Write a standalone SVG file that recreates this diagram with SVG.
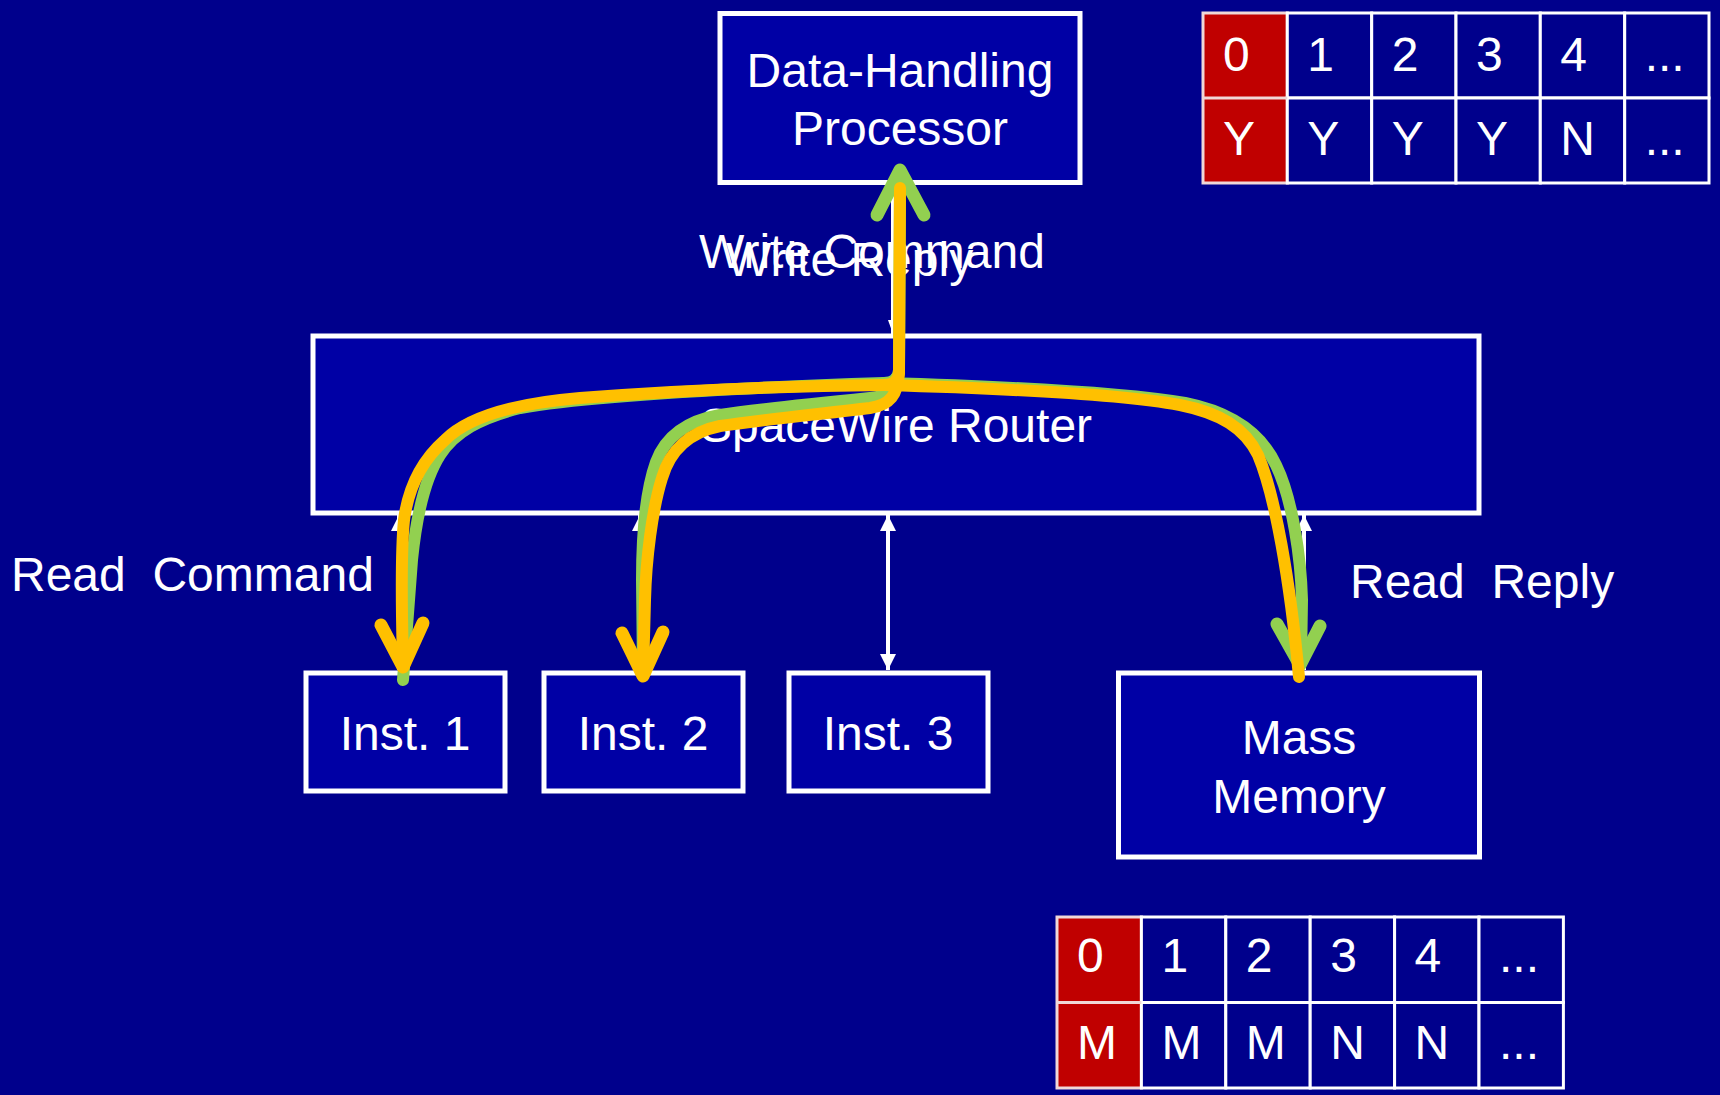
<svg xmlns="http://www.w3.org/2000/svg" width="1720" height="1095" viewBox="0 0 1720 1095">
<defs>
<style>
.bg{fill:#00008C}
.box{fill:#0000A5;stroke:#FFFFFF;stroke-width:5}
.t{font-family:"Liberation Sans",Arial,sans-serif;font-size:48px;fill:#FFFFFF}
.tc{text-anchor:middle}
.tb{font-family:"Liberation Sans",Arial,sans-serif;font-size:48px;fill:#FFFFFF}
.cell{fill:#00008C;stroke:#FFFFFF;stroke-width:3}
.red{fill:#C00000;stroke:#F0D8D8;stroke-width:3}
.wl{stroke:#FFFFFF;stroke-width:4;fill:none}
.g{stroke:#92D050;stroke-width:12;fill:none;stroke-linecap:round;stroke-linejoin:round}
.y{stroke:#FFC000;stroke-width:12;fill:none;stroke-linecap:round;stroke-linejoin:round}
.gh{stroke:#92D050;stroke-width:13;fill:none;stroke-linecap:round;stroke-linejoin:round}
.yh{stroke:#FFC000;stroke-width:13;fill:none;stroke-linecap:round;stroke-linejoin:round}
</style>
<marker id="arr" viewBox="0 0 16 16" markerWidth="16" markerHeight="16" markerUnits="userSpaceOnUse" refX="16" refY="8" orient="auto-start-reverse">
<path d="M0,0 L16,8 L0,16 z" fill="#FFFFFF"/>
</marker>
<marker id="arrS" viewBox="0 0 14 10" markerWidth="14" markerHeight="10" markerUnits="userSpaceOnUse" refX="14" refY="5" orient="auto-start-reverse">
<path d="M0,0 L14,5 L0,10 z" fill="#FFFFFF"/>
</marker>
</defs>
<rect class="bg" x="0" y="0" width="1720" height="1095"/>

<g id="dhp">
<rect class="box" x="720" y="13.5" width="360" height="169"/>
<text class="t tc" x="900" y="87">Data-Handling</text>
<text class="t tc" x="900" y="145">Processor</text>
</g>

<g id="router">
<rect class="box" x="313" y="336" width="1166" height="177"/>
<text class="t tc" x="896" y="442">SpaceWire Router</text>
</g>

<g id="inst1">
<rect class="box" x="306" y="673" width="199" height="118"/>
<text class="t tc" x="405" y="750">Inst. 1</text>
</g>
<g id="inst2">
<rect class="box" x="544" y="673" width="199" height="118"/>
<text class="t tc" x="643" y="750">Inst. 2</text>
</g>
<g id="inst3">
<rect class="box" x="789" y="673" width="199" height="118"/>
<text class="t tc" x="888" y="750">Inst. 3</text>
</g>

<g id="mass-memory">
<rect class="box" x="1118.5" y="673" width="361" height="184"/>
<text class="t tc" x="1299" y="754">Mass</text>
<text class="t tc" x="1299" y="813">Memory</text>
</g>

<g id="table-top">
<rect class="red" x="1203" y="13" width="84.3" height="170"/>
<rect class="cell" x="1287.3" y="13" width="84.4" height="85"/>
<rect class="cell" x="1371.7" y="13" width="84.3" height="85"/>
<rect class="cell" x="1456" y="13" width="84.3" height="85"/>
<rect class="cell" x="1540.3" y="13" width="84.4" height="85"/>
<rect class="cell" x="1624.7" y="13" width="84.3" height="85"/>
<rect class="cell" x="1287.3" y="98" width="84.4" height="85"/>
<rect class="cell" x="1371.7" y="98" width="84.3" height="85"/>
<rect class="cell" x="1456" y="98" width="84.3" height="85"/>
<rect class="cell" x="1540.3" y="98" width="84.4" height="85"/>
<rect class="cell" x="1624.7" y="98" width="84.3" height="85"/>
<line x1="1203" y1="98" x2="1287.3" y2="98" stroke="#F0D8D8" stroke-width="3"/>
<text class="tb" x="1223" y="71">0</text>
<text class="tb" x="1307.3" y="71">1</text>
<text class="tb" x="1391.7" y="71">2</text>
<text class="tb" x="1476" y="71">3</text>
<text class="tb" x="1560.3" y="71">4</text>
<text class="tb" x="1644.7" y="71">...</text>
<text class="tb" x="1223" y="155">Y</text>
<text class="tb" x="1307.3" y="155">Y</text>
<text class="tb" x="1391.7" y="155">Y</text>
<text class="tb" x="1476" y="155">Y</text>
<text class="tb" x="1560.3" y="155">N</text>
<text class="tb" x="1644.7" y="155">...</text>
</g>

<g id="table-bottom">
<rect class="red" x="1057" y="917" width="84.4" height="171"/>
<rect class="cell" x="1141.4" y="917" width="84.4" height="85.5"/>
<rect class="cell" x="1225.8" y="917" width="84.4" height="85.5"/>
<rect class="cell" x="1310.2" y="917" width="84.4" height="85.5"/>
<rect class="cell" x="1394.6" y="917" width="84.4" height="85.5"/>
<rect class="cell" x="1479" y="917" width="84.4" height="85.5"/>
<rect class="cell" x="1141.4" y="1002.5" width="84.4" height="85.5"/>
<rect class="cell" x="1225.8" y="1002.5" width="84.4" height="85.5"/>
<rect class="cell" x="1310.2" y="1002.5" width="84.4" height="85.5"/>
<rect class="cell" x="1394.6" y="1002.5" width="84.4" height="85.5"/>
<rect class="cell" x="1479" y="1002.5" width="84.4" height="85.5"/>
<line x1="1057" y1="1002.5" x2="1141.4" y2="1002.5" stroke="#F0D8D8" stroke-width="3"/>
<text class="tb" x="1077" y="972">0</text>
<text class="tb" x="1161.4" y="972">1</text>
<text class="tb" x="1245.8" y="972">2</text>
<text class="tb" x="1330.2" y="972">3</text>
<text class="tb" x="1414.6" y="972">4</text>
<text class="tb" x="1499" y="972">...</text>
<text class="tb" x="1077" y="1059">M</text>
<text class="tb" x="1161.4" y="1059">M</text>
<text class="tb" x="1245.8" y="1059">M</text>
<text class="tb" x="1330.2" y="1059">N</text>
<text class="tb" x="1414.6" y="1059">N</text>
<text class="tb" x="1499" y="1059">...</text>
</g>

<g id="labels">
<text class="t" x="699" y="268">Write Command</text>
<text class="t" x="726" y="276">Write Reply</text>
<text class="t" x="11" y="591" xml:space="preserve">Read  Command</text>
<text class="t" x="1350" y="598" xml:space="preserve">Read  Reply</text>
</g>

<g id="connectors">
<line class="wl" x1="893" y1="184" x2="893" y2="334" marker-start="url(#arrS)" marker-end="url(#arrS)"/>
<line class="wl" x1="399" y1="515" x2="399" y2="670" marker-start="url(#arr)" marker-end="url(#arr)"/>
<line class="wl" x1="640" y1="515" x2="640" y2="670" marker-start="url(#arr)" marker-end="url(#arr)"/>
<line class="wl" x1="888" y1="515" x2="888" y2="670" marker-start="url(#arr)" marker-end="url(#arr)"/>
<line class="wl" x1="1304" y1="515" x2="1304" y2="670" marker-start="url(#arr)" marker-end="url(#arr)"/>

<path class="g" d="M403,680 L412,560 C416,520 424,480 440,455 C455,432 480,418 520,408 C580,397 700,389 884,383 Q898,383 899,370 L900,180"/>
<path class="g" d="M884,383 C990,386 1120,392 1185,403 C1235,413 1262,435 1276,465 C1293,500 1301,560 1302,600 L1301,663"/>
<path class="g" d="M896,378 C895,392 888,396 870,398 C820,403 760,409 720,415 C685,421 665,438 656,462 C646,490 642,530 642,580 L643,670"/>
<path class="gh" d="M877,215 L900,170 L924,215"/>
<path class="gh" d="M1277,624 L1300,665 L1320,626"/>

<path class="y" d="M900,188 L899,372 Q898,385 884,385 C780,386 660,392 580,398 C520,403 470,415 445,440 C420,462 408,490 404,520 C400,560 402,620 403,665"/>
<path class="y" d="M884,385 C990,388 1120,394 1180,405 C1220,413 1245,428 1258,455 C1275,495 1290,580 1299,677"/>
<path class="y" d="M899,372 C898,395 890,405 870,408 C820,414 760,420 720,426 C690,432 670,450 662,478 C652,510 646,560 645,600 L643,674"/>
<path class="yh" d="M381,625 L403,667 L423,623"/>
<path class="yh" d="M622,633 L643,676 L663,632"/>
</g>
</svg>
